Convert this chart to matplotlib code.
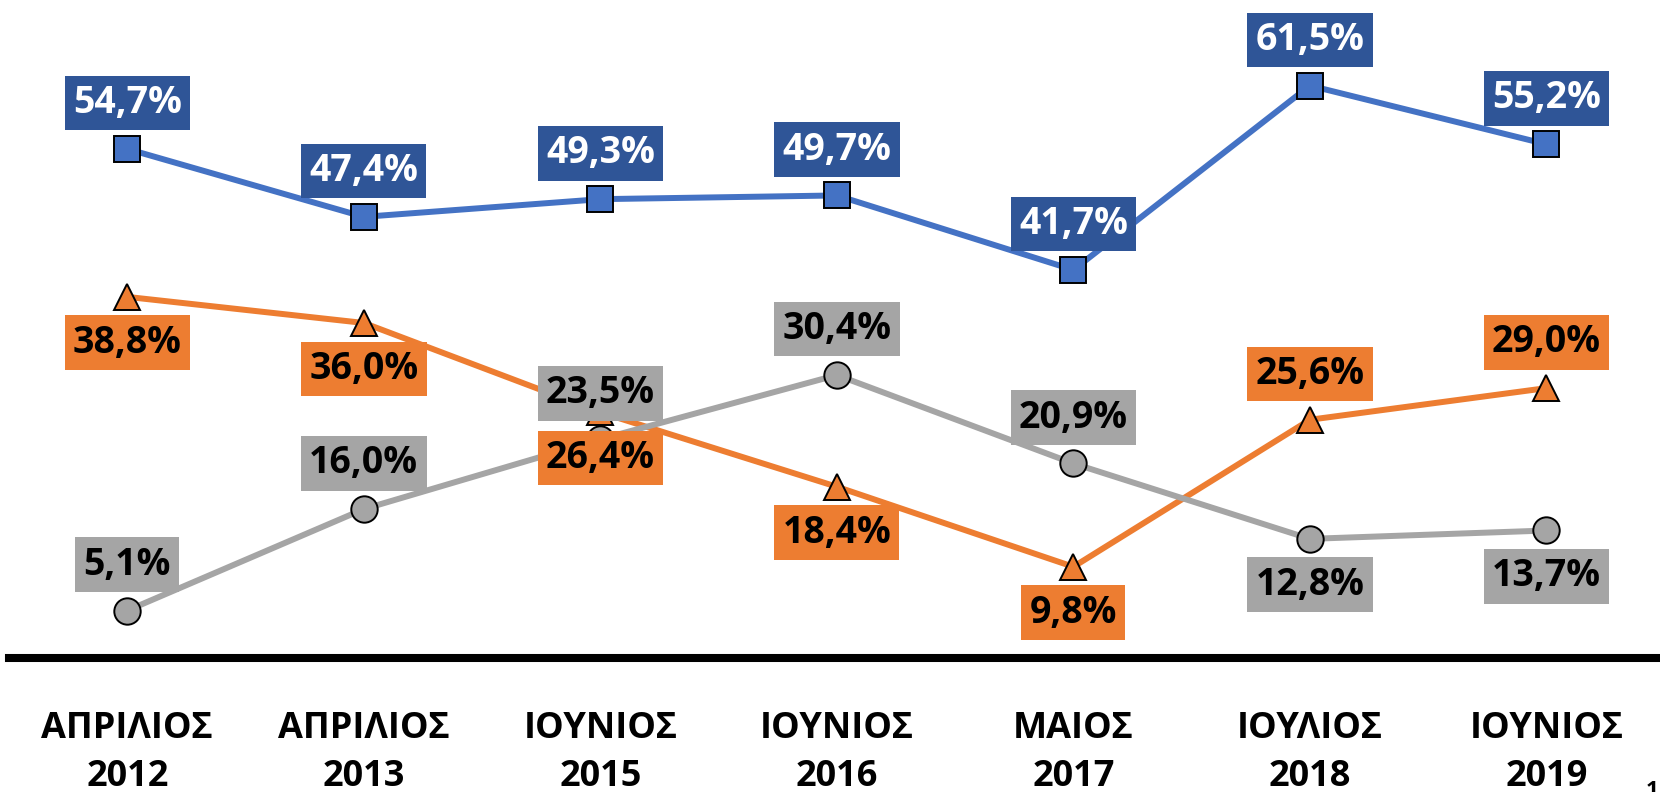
import matplotlib

matplotlib.use("Agg")
import matplotlib.pyplot as plt


categories = [
    "ΑΠΡΙΛΙΟΣ\n2012",
    "ΑΠΡΙΛΙΟΣ\n2013",
    "ΙΟΥΝΙΟΣ\n2015",
    "ΙΟΥΝΙΟΣ\n2016",
    "ΜΑΙΟΣ\n2017",
    "ΙΟΥΛΙΟΣ\n2018",
    "ΙΟΥΝΙΟΣ\n2019",
]
blue_values = [54.7, 47.4, 49.3, 49.7, 41.7, 61.5, 55.2]
orange_values = [38.8, 36.0, 26.4, 18.4, 9.8, 25.6, 29.0]
gray_values = [5.1, 16.0, 23.5, 30.4, 20.9, 12.8, 13.7]

# label above (+1) or below (-1) the marker
blue_side = [1, 1, 1, 1, 1, 1, 1]
orange_side = [-1, -1, -1, -1, -1, 1, 1]
gray_side = [1, 1, 1, 1, 1, -1, -1]

FONT = ["Open Sans", "DejaVu Sans"]
plt.rcParams["font.family"] = FONT

BLUE = "#4472C4"
BLUE_BOX = "#2F5597"
ORANGE = "#ED7D31"
GRAY = "#A5A5A5"


def fmt(v: float) -> str:
    return f"{v:.1f}".replace(".", ",") + "%"


def draw_series(ax, values, color, marker, box_color, text_color, sides, z):
    x = list(range(len(values)))
    ax.plot(x, values, color=color, lw=4.3, marker=marker, markersize=19,
            markerfacecolor=color, markeredgecolor="black", markeredgewidth=1.4,
            zorder=z, clip_on=False)
    for xi, v, s in zip(x, values, sides):
        ax.annotate(fmt(v), (xi, v), xytext=(0, 33 * s), textcoords="offset points",
                    ha="center", va="center", fontsize=27, fontweight="bold",
                    color=text_color, zorder=10,
                    bbox=dict(boxstyle="square,pad=0.22", fc=box_color, ec="none"))


def main() -> None:
    fig = plt.figure(figsize=(16.6, 7.92), dpi=100)
    ax = fig.add_axes([9 / 1660, 134 / 792, 1651 / 1660, 658 / 792])

    draw_series(ax, blue_values, BLUE, "s", BLUE_BOX, "white", blue_side, 3)
    draw_series(ax, orange_values, ORANGE, "^", ORANGE, "black", orange_side, 4)
    draw_series(ax, gray_values, GRAY, "o", GRAY, "black", gray_side, 5)

    ax.set_xlim(-0.5, 6.48)
    ax.set_ylim(0, 70.7)
    for side in ("top", "left", "right"):
        ax.spines[side].set_visible(False)
    ax.spines["bottom"].set_linewidth(5.8)
    ax.spines["bottom"].set_color("black")
    ax.set_yticks([])
    ax.set_xticks(range(len(categories)))
    ax.set_xticklabels(categories, fontsize=26, fontweight="bold", linespacing=1.45)
    ax.tick_params(axis="x", length=0, pad=38)

    fig.text(1652 / 1660, 2 / 792, "1", fontsize=16, fontweight="bold",
             ha="center", va="center")

    fig.savefig("out.png", dpi=100)
    plt.close(fig)


if __name__ == "__main__":
    main()
